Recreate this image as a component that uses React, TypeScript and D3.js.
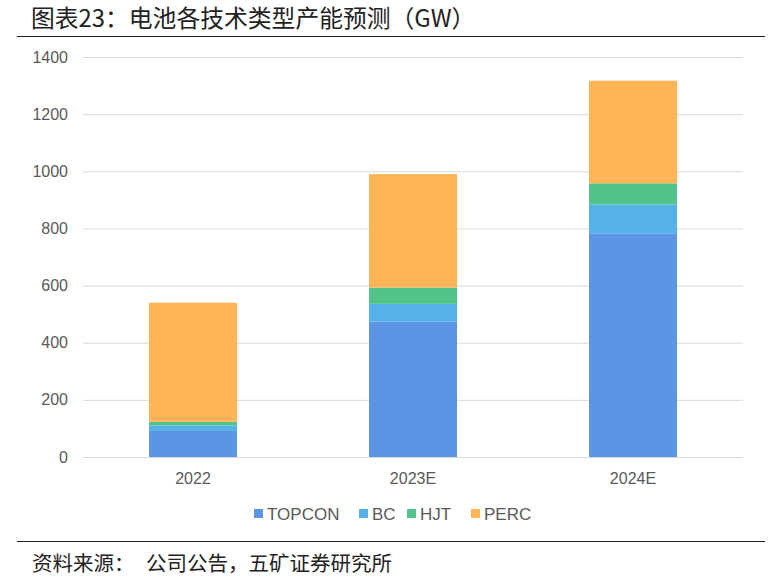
import React from "react";
import * as d3 from "d3";

const categories = ["2022", "2023E", "2024E"];
const seriesNames = ["TOPCON", "BC", "HJT", "PERC"];
const topcon = [91, 474, 783];
const bc = [20, 62, 101];
const hjt = [12, 57, 74];
const perc = [417, 397, 359];
const yTicks = [0, 200, 400, 600, 800, 1000, 1200, 1400];
const colors = ["#5B95E3", "#55B1E6", "#52C38A", "#FDB557"];

const W = 783, H = 587;

export default function App() {
  const x = d3.scaleBand().domain(categories).range([83, 743]).paddingInner(0.6).paddingOuter(0.3);
  const y = d3.scaleLinear().domain([0, 1400]).range([457, 57]);
  const rows = categories.map((c, i) => ({ cat: c, TOPCON: topcon[i], BC: bc[i], HJT: hjt[i], PERC: perc[i] }));
  const stack = d3.stack<any>().keys(seriesNames)(rows);
  const font = "'Liberation Sans', Arial, sans-serif";
  const cjk = "'Noto Sans CJK SC', sans-serif";
  const legendItems = [
    { name: "TOPCON", x: 254 },
    { name: "BC", x: 359 },
    { name: "HJT", x: 407 },
    { name: "PERC", x: 471 },
  ];
  return (
    <svg width={W} height={H} style={{ position: "absolute", left: 0, top: 0, background: "#fff" }}>
      <rect width={W} height={H} fill="#fff" />
      <text x={31} y={27} fontFamily={cjk} fontSize={23.8} fill="#222">图表23：电池各技术类型产能预测（GW）</text>
      <line x1={17} x2={765} y1={36.5} y2={36.5} stroke="#222" strokeWidth={1.2} />
      {yTicks.map((t) => (
        <g key={t}>
          <line x1={83} x2={743} y1={y(t) + 0.5} y2={y(t) + 0.5} stroke="#d9d9d9" strokeWidth={1} />
          <text x={68} y={y(t) + 5.5} textAnchor="end" fontFamily={font} fontSize={16} fill="#595959">{t}</text>
        </g>
      ))}
      {stack.map((s, si) => (
        <g key={s.key} fill={colors[si]}>
          {s.map((d: any, i: number) => (
            <rect key={i} x={x(categories[i])} width={x.bandwidth()} y={y(d[1])} height={y(d[0]) - y(d[1])} />
          ))}
        </g>
      ))}
      {categories.map((c) => (
        <text key={c} x={(x(c) as number) + x.bandwidth() / 2} y={484} textAnchor="middle" fontFamily={font} fontSize={16} fill="#595959">{c}</text>
      ))}
      {legendItems.map((l, i) => (
        <g key={l.name}>
          <rect x={l.x} y={509} width={9} height={9} fill={colors[i]} />
          <text x={l.x + 13} y={520} fontFamily={font} fontSize={17} fill="#595959">{l.name}</text>
        </g>
      ))}
      <line x1={17} x2={765} y1={541.5} y2={541.5} stroke="#222" strokeWidth={1.2} />
      <text y={571} fontFamily={cjk} fontSize={20.5} fill="#222">
        <tspan x={32}>资料来源：</tspan>
        <tspan x={146}>公司公告，五矿证券研究所</tspan>
      </text>
    </svg>
  );
}
